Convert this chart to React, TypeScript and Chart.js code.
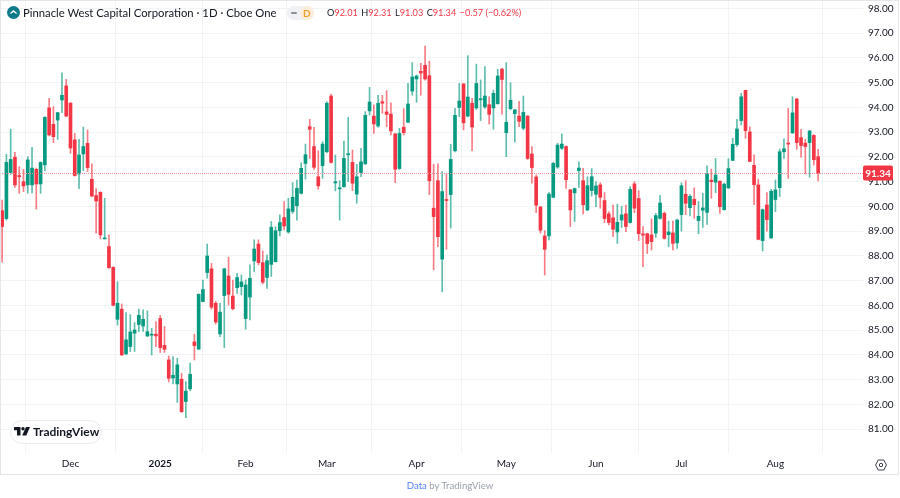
import React, { useEffect, useRef } from 'react';
import { Chart, registerables } from 'chart.js';

Chart.register(...registerables);

const opens = [
  89.83, 89.51, 91.37, 91.99, 91.25, 91.0, 90.87, 90.87, 91.5, 90.91, 91.68, 93.98, 93.32, 93.49, 94.3, 94.87,
  94.17, 92.69, 91.31, 92.12, 92.55, 91.1, 90.44, 90.57, 88.69, 88.38, 87.54, 85.44, 85.85, 84.04, 84.34, 84.88,
  85.23, 85.17, 84.77, 84.8, 84.84, 85.47, 84.39, 83.8, 83.07, 82.83, 83.02, 82.12, 82.63, 84.53, 84.24, 86.16,
  87.33, 87.48, 86.09, 84.85, 86.4, 87.19, 86.38, 86.72, 86.76, 85.47, 86.34, 87.8, 88.48, 87.73, 87.13, 87.66,
  87.77, 89.02, 89.55, 88.97, 89.8, 90.03, 90.53, 91.74, 93.22, 92.42, 91.2, 91.65, 92.21, 94.46, 90.95, 90.71,
  90.8, 92.09, 91.78, 90.5, 91.37, 91.72, 93.86, 93.65, 93.25, 94.23, 93.82, 93.73, 92.93, 91.53, 93.2, 93.4,
  94.66, 95.15, 95.46, 95.7, 95.28, 89.93, 91.04, 87.87, 90.28, 90.48, 92.25, 94.0, 94.95, 93.65, 94.17, 93.98,
  94.31, 94.02, 94.11, 93.98, 94.15, 95.55, 92.98, 93.95, 93.75, 93.65, 93.16, 93.65, 92.12, 91.19, 89.98, 88.81,
  88.81, 90.37, 91.59, 92.35, 92.42, 90.67, 90.55, 91.45, 91.04, 89.86, 90.64, 90.49, 90.87, 90.24, 89.7, 89.54,
  88.97, 89.45, 89.7, 89.35, 90.91, 90.32, 88.89, 88.9, 88.85, 88.92, 89.52, 89.72, 88.86, 88.93, 88.53, 89.67,
  90.49, 89.95, 90.29, 89.43, 89.85, 89.76, 91.06, 90.98, 91.02, 89.87, 90.75, 91.86, 92.5, 93.47, 94.69, 93.01,
  91.66, 90.87, 88.62, 90.06, 88.73, 90.28, 90.76, 92.21, 92.56, 92.97, 94.34, 92.78, 92.56, 92.58, 92.87, 92.01,
];
const highs = [
  90.26, 92.11, 93.12, 92.19, 91.61, 91.5, 92.01, 92.39, 91.55, 91.8, 93.63, 94.37, 94.03, 93.8, 95.4, 95.13,
  94.2, 92.95, 92.71, 93.2, 93.09, 91.72, 90.72, 90.6, 90.33, 88.85, 87.57, 86.96, 86.06, 85.71, 85.63, 85.31,
  85.85, 85.82, 85.78, 85.08, 85.35, 85.6, 85.15, 83.96, 83.94, 83.87, 83.26, 82.93, 83.67, 84.84, 86.47, 87.03,
  88.48, 87.7, 86.16, 86.09, 87.5, 87.95, 87.03, 87.3, 87.23, 87.03, 87.64, 88.65, 88.65, 88.2, 88.04, 89.39,
  89.18, 89.66, 90.2, 90.33, 90.96, 91.07, 91.77, 92.52, 93.52, 93.2, 92.25, 92.62, 94.23, 94.54, 92.08, 91.04,
  92.64, 93.6, 92.28, 91.7, 92.35, 93.83, 94.81, 94.1, 94.49, 94.49, 94.68, 94.19, 92.95, 93.16, 93.95, 94.97,
  95.81, 95.31, 95.78, 96.48, 95.87, 91.7, 91.72, 91.41, 91.31, 92.51, 93.96, 94.97, 94.97, 96.09, 94.37, 95.75,
  95.11, 95.65, 94.43, 94.7, 95.54, 95.58, 95.81, 95.0, 93.92, 94.25, 94.46, 93.67, 92.42, 91.27, 90.0, 89.02,
  90.56, 91.78, 92.55, 92.93, 92.45, 90.69, 90.75, 91.8, 91.54, 91.2, 91.53, 91.0, 90.96, 90.56, 89.79, 90.06,
  90.09, 90.0, 90.06, 90.8, 91.0, 90.64, 89.19, 88.92, 89.5, 89.72, 90.45, 89.78, 89.41, 89.41, 89.49, 90.96,
  91.04, 90.48, 90.75, 90.2, 90.53, 91.64, 91.51, 91.94, 91.03, 90.94, 91.93, 92.75, 93.52, 94.57, 94.7, 93.22,
  92.09, 91.1, 89.9, 90.56, 90.69, 91.07, 92.32, 92.73, 93.96, 94.43, 94.37, 93.12, 92.71, 93.07, 92.9, 92.31,
];
const lows = [
  87.75, 89.45, 91.3, 90.77, 90.53, 90.6, 90.53, 90.55, 89.89, 90.53, 91.45, 92.85, 92.58, 92.71, 93.79, 93.63,
  92.15, 91.22, 90.72, 91.45, 91.41, 90.4, 88.92, 88.69, 88.68, 87.5, 85.98, 85.21, 83.98, 84.02, 84.14, 84.14,
  84.94, 84.95, 84.74, 84.0, 84.34, 84.1, 84.1, 82.91, 82.83, 82.08, 81.68, 81.47, 82.56, 83.8, 84.22, 86.14,
  87.1, 85.85, 85.25, 84.74, 84.3, 86.02, 85.82, 86.49, 86.43, 85.04, 85.42, 87.37, 87.64, 86.87, 86.69, 87.17,
  87.75, 88.81, 89.05, 88.92, 89.72, 89.45, 90.5, 91.1, 91.94, 91.5, 90.69, 91.14, 92.17, 91.75, 90.63, 89.45,
  90.77, 91.0, 90.64, 90.13, 91.2, 91.7, 93.69, 92.95, 93.2, 93.76, 93.22, 92.89, 90.96, 91.5, 92.89, 93.38,
  94.49, 94.21, 94.5, 95.1, 90.48, 87.44, 88.38, 86.55, 88.27, 89.13, 92.2, 93.63, 93.09, 93.62, 92.25, 93.92,
  93.47, 93.96, 93.33, 93.12, 94.13, 93.73, 92.01, 93.9, 92.6, 93.22, 93.09, 91.9, 90.94, 89.75, 88.92, 87.23,
  88.65, 90.35, 91.54, 92.3, 90.73, 89.19, 89.39, 90.77, 89.7, 89.83, 90.42, 89.99, 89.93, 89.35, 89.25, 88.78,
  88.51, 89.15, 88.98, 89.32, 89.75, 88.62, 87.57, 88.1, 88.24, 88.74, 89.49, 88.68, 88.38, 88.24, 88.3, 89.0,
  89.67, 89.62, 89.52, 88.9, 89.15, 89.27, 90.33, 90.56, 89.72, 89.85, 90.72, 91.85, 92.42, 93.29, 92.75, 91.8,
  90.07, 88.65, 88.2, 89.0, 88.7, 89.79, 90.4, 91.94, 91.14, 92.95, 92.31, 91.99, 91.31, 91.18, 91.68, 91.03,
];
const closes = [
  89.19, 91.78, 91.9, 90.87, 91.2, 90.83, 91.88, 91.55, 90.91, 91.78, 93.6, 92.89, 92.82, 93.79, 94.49, 93.65,
  92.36, 91.25, 92.08, 92.42, 91.57, 90.42, 90.22, 88.85, 88.73, 87.53, 86.01, 86.09, 84.0, 84.61, 84.93, 85.01,
  85.6, 85.44, 84.94, 84.82, 84.77, 84.3, 84.23, 83.06, 83.18, 83.6, 81.71, 82.54, 83.22, 84.38, 86.45, 86.64,
  88.0, 85.93, 85.33, 85.73, 87.48, 86.45, 85.87, 87.13, 86.95, 86.83, 87.1, 88.28, 87.73, 86.94, 87.81, 89.16,
  89.02, 89.35, 89.21, 89.9, 90.37, 90.73, 91.54, 92.09, 93.12, 91.58, 90.83, 92.52, 94.17, 91.78, 91.0, 90.75,
  91.94, 92.12, 90.94, 91.2, 91.8, 93.68, 94.22, 93.33, 94.17, 94.17, 93.72, 93.05, 91.5, 92.95, 92.98, 94.14,
  95.23, 95.27, 95.39, 95.15, 91.04, 89.59, 88.78, 90.6, 90.24, 91.9, 93.68, 94.26, 93.38, 94.42, 93.21, 94.97,
  94.35, 94.46, 93.72, 94.57, 95.27, 95.13, 93.4, 94.29, 93.9, 93.44, 93.8, 91.94, 91.57, 90.05, 89.04, 88.27,
  90.5, 91.74, 92.48, 92.52, 91.08, 89.86, 90.72, 91.55, 90.07, 90.84, 91.2, 90.83, 90.37, 89.51, 89.35, 89.08,
  89.36, 89.66, 89.19, 90.69, 89.93, 88.9, 88.84, 88.5, 88.58, 89.63, 90.14, 88.71, 88.97, 88.51, 89.45, 90.84,
  90.13, 90.41, 90.07, 89.6, 89.94, 91.33, 91.0, 91.27, 89.99, 90.9, 91.53, 92.51, 93.13, 94.43, 93.06, 91.82,
  90.88, 88.67, 89.87, 89.47, 90.61, 90.67, 92.21, 92.33, 92.52, 93.78, 92.58, 92.46, 92.42, 93.05, 91.89, 91.34,
];

// empty room to the right of the last bar, as on the original time axis
const categories = Array.from({ length: 202 }, (_, i) => i);
const monthBars = [16, 37, 57, 76, 97, 118, 139, 159, 181];
const monthLabels = ['Dec', '2025', 'Feb', 'Mar', 'Apr', 'May', 'Jun', 'Jul', 'Aug'];
const priceTicks = [81, 82, 83, 84, 85, 86, 87, 88, 89, 90, 91, 92, 93, 94, 95, 96, 97, 98];
const lastPrice = 91.34;

const GREEN = '#089981';
const RED = '#F23645';
const FONT = 'Lato, "Noto Sans", sans-serif';

const isUp = (i: number) => closes[i] >= opens[i];

// dotted last price line and the red tag on the price axis
const lastPricePlugin = {
  id: 'lastPrice',
  afterDraw(chart: Chart) {
    const { ctx, chartArea, scales } = chart;
    const y = Math.round(scales.y.getPixelForValue(lastPrice)) + 0.5;
    ctx.save();
    ctx.strokeStyle = '#f68f97';
    ctx.lineWidth = 1;
    ctx.setLineDash([1, 1]);
    ctx.beginPath();
    ctx.moveTo(chartArea.left, y);
    ctx.lineTo(chartArea.right, y);
    ctx.stroke();
    ctx.setLineDash([]);
    ctx.fillStyle = RED;
    ctx.beginPath();
    ctx.roundRect(chartArea.right, y - 8, 30, 15, 2);
    ctx.fill();
    ctx.fillStyle = '#ffffff';
    ctx.font = `700 10px ${FONT}`;
    ctx.textAlign = 'center';
    ctx.textBaseline = 'middle';
    ctx.fillText(lastPrice.toFixed(2), chartArea.right + 15, y);
    ctx.restore();
  },
};

const App: React.FC = () => {
  const canvasRef = useRef<HTMLCanvasElement | null>(null);

  useEffect(() => {
    if (!canvasRef.current) return;

    const chart = new Chart(canvasRef.current, {
      type: 'bar',
      data: {
        labels: categories,
        datasets: [
          {
            label: 'Body',
            data: opens.map((o, i) => [o, closes[i]]) as any,
            backgroundColor: opens.map((_, i) => (isUp(i) ? GREEN : RED)),
            barThickness: 3,
            minBarLength: 1,
          },
          {
            label: 'Wick',
            data: lows.map((l, i) => [l, highs[i]]) as any,
            backgroundColor: opens.map((_, i) => (isUp(i) ? 'rgba(8, 153, 129, 0.65)' : 'rgba(242, 54, 69, 0.65)')),
            barThickness: 1,
          },
        ],
      },
      options: {
        responsive: false,
        animation: false,
        devicePixelRatio: 1,
        layout: { padding: { bottom: 24 } },
        datasets: { bar: { grouped: false } },
        plugins: { legend: { display: false }, tooltip: { enabled: false } },
        scales: {
          x: {
            afterFit: (scale: any) => {
              scale.height = 21;
              scale.paddingLeft = 0;
              scale.paddingRight = 0;
            },
            afterBuildTicks: (scale: any) => {
              scale.ticks = monthBars.map((value) => ({ value }));
            },
            border: { display: false },
            grid: { color: '#f2f3f5', drawTicks: false },
            ticks: {
              autoSkip: false,
              maxRotation: 0,
              padding: 5,
              color: '#131722',
              font: (ctx: any) => ({
                family: FONT,
                size: 10,
                weight: ctx.tick && ctx.tick.value === monthBars[1] ? 700 : 400,
              }),
              callback: (value: any) => monthLabels[monthBars.indexOf(Number(value))],
            },
          },
          y: {
            position: 'right',
            min: 80.04,
            max: 98.34,
            afterFit: (scale: any) => {
              scale.width = 37;
              scale.paddingTop = 0;
              scale.paddingBottom = 0;
            },
            afterBuildTicks: (scale: any) => {
              scale.ticks = priceTicks.map((value) => ({ value }));
            },
            border: { display: false },
            grid: { color: '#f2f3f5', drawTicks: false },
            ticks: {
              padding: 5,
              color: '#131722',
              font: { family: FONT, size: 10 },
              callback: (value: any) => Number(value).toFixed(2),
            },
          },
        },
      },
      plugins: [lastPricePlugin],
    } as any);

    return () => {
      chart.destroy();
    };
  }, []);

  const red = { color: RED };

  return (
    <div style={{ position: 'fixed', left: 0, top: 0, width: 900, height: 498, background: '#fff', fontFamily: FONT, overflow: 'hidden' }}>
      <canvas ref={canvasRef} width={900} height={498} style={{ display: 'block' }} />

      {/* chart frame */}
      <div style={{ position: 'absolute', left: 0, top: 0, width: 897, height: 473, border: '1px solid #e4e6ea', pointerEvents: 'none' }} />

      {/* header */}
      <svg width="13" height="13" viewBox="0 0 13 13" style={{ position: 'absolute', left: 7, top: 6 }}>
        <circle cx="6.5" cy="6.5" r="6.5" fill="#0f7a8a" />
        <path d="M2.5 7.6 L6.5 4 L10.5 7.6 L8.6 7.6 L6.5 5.9 L4.4 7.6 Z" fill="#fff" />
      </svg>
      <div style={{ position: 'absolute', left: 23, top: 4, fontSize: 11.3, lineHeight: '18px', color: '#131722', whiteSpace: 'nowrap' }}>
        Pinnacle West Capital Corporation · 1D · Cboe One
      </div>
      <div style={{ position: 'absolute', left: 287, top: 6, width: 27, height: 14, borderRadius: 7, background: '#eff1f4' }} />
      <div style={{ position: 'absolute', left: 300, top: 6, width: 14, height: 14, borderRadius: 7, background: '#fdeedb' }} />
      <div style={{ position: 'absolute', left: 291, top: 12, width: 6, height: 2, borderRadius: 1, background: '#8a8e98' }} />
      <div style={{ position: 'absolute', left: 303, top: 5, fontSize: 10, fontWeight: 700, lineHeight: '16px', color: '#f59f2c' }}>D</div>
      <div style={{ position: 'absolute', left: 327, top: 5, fontSize: 9.2, lineHeight: '16px', color: '#131722', whiteSpace: 'nowrap' }}>
        O<span style={red}>92.01</span> <span style={{ marginLeft: 1 }}>H</span><span style={red}>92.31</span>{' '}
        <span style={{ marginLeft: 1 }}>L</span><span style={red}>91.03</span> <span style={{ marginLeft: 1 }}>C</span>
        <span style={red}>91.34</span> <span style={{ ...red, marginLeft: 1 }}>−0.57 (−0.62%)</span>
      </div>

      {/* TradingView badge */}
      <div style={{ position: 'absolute', left: 10, top: 420, width: 90, height: 22, borderRadius: 12, background: '#fff', border: '1px solid #e9ebef' }} />
      <svg width="16" height="9" viewBox="0 0 16 9" style={{ position: 'absolute', left: 14, top: 427 }}>
        <path d="M0 0 H6.5 V8.5 H3 V3.2 H0 Z" fill="#131722" />
        <circle cx="9" cy="1.7" r="1.7" fill="#131722" />
        <path d="M12 0 H16 L12.3 8.5 H8.2 Z" fill="#131722" />
      </svg>
      <div style={{ position: 'absolute', left: 33, top: 423, fontSize: 12, fontWeight: 700, lineHeight: '17px', color: '#131722', whiteSpace: 'nowrap' }}>
        TradingView
      </div>

      {/* settings icon */}
      <svg width="12" height="12" viewBox="0 0 12 12" style={{ position: 'absolute', left: 875, top: 459 }}>
        <path d="M3.2 1 H8.8 L11.4 6 L8.8 11 H3.2 L0.6 6 Z" fill="none" stroke="#3b3f48" strokeWidth="1" />
        <circle cx="6" cy="6" r="1.7" fill="none" stroke="#3b3f48" strokeWidth="1" />
      </svg>

      {/* footer */}
      <div style={{ position: 'absolute', left: 0, top: 478, width: 900, textAlign: 'center', fontSize: 9.6, lineHeight: '16px', color: '#9aa0aa' }}>
        <span style={{ color: '#2962ff', opacity: 0.8 }}>Data</span> by TradingView
      </div>
    </div>
  );
};

export default App;
